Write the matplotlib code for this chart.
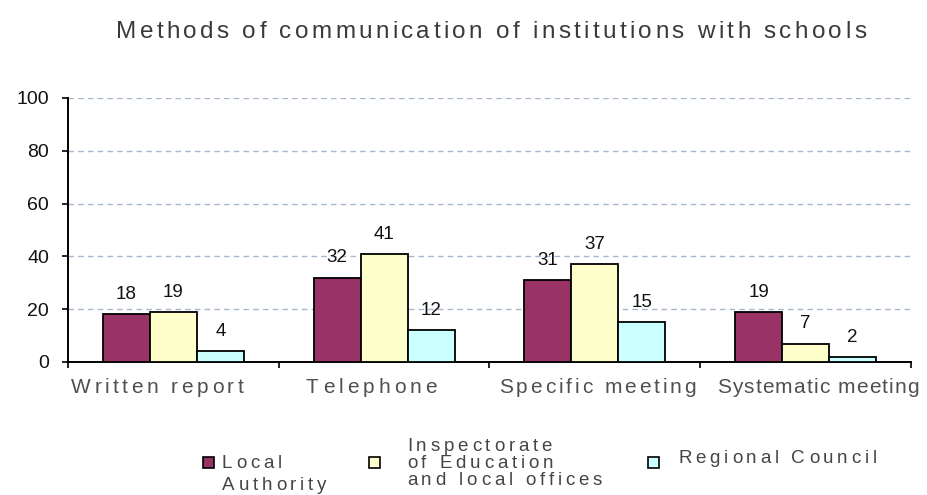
import matplotlib
matplotlib.use('Agg')
import matplotlib.pyplot as plt
import numpy as np
from matplotlib.font_manager import FontProperties, findfont, get_font
from matplotlib.patches import Rectangle

categories = ['Written report', 'Telephone', 'Specific meeting', 'Systematic meeting']
series_names = ['Local\nAuthority', 'Inspectorate\nof Education\nand local offices', 'Regional Council']
local_authority = [18, 32, 31, 19]
inspectorate = [19, 41, 37, 7]
regional_council = [4, 12, 15, 2]
yticks = [0, 20, 40, 60, 80, 100]
title = 'Methods of communication of institutions with schools'

colors = ['#993366', '#FFFFCC', '#CCFFFF']
W, H, DPI = 928, 495, 100
FONT = 'Liberation Sans'

fig = plt.figure(figsize=(W / DPI, H / DPI), dpi=DPI)
ax = fig.add_axes([68 / W, 1 - 362 / H, (911 - 68) / W, 264 / H])


def spaced_text(x, y, s, size, width=None, track=0.0, ha='center', color='black'):
    """Draw s letter by letter with extra tracking; x, y in pixels from top-left, y is baseline."""
    prop = FontProperties(family=FONT, size=size)
    font = get_font(findfont(prop))
    font.set_size(size, DPI)
    adv = [font.load_char(ord(c)).linearHoriAdvance / 65536 for c in s]
    if width is not None:
        track = (width - sum(adv)) / (len(s) - 1)
    total = sum(adv) + track * (len(s) - 1)
    cx = x - total / 2 if ha == 'center' else x
    for c, a in zip(s, adv):
        fig.text(cx / W, 1 - y / H, c, fontproperties=prop, color=color,
                 ha='left', va='baseline')
        cx += a + track


x = np.arange(len(categories))
bw = 0.223
for i, (vals, col) in enumerate(zip([local_authority, inspectorate, regional_council], colors)):
    bars = ax.bar(x + (i - 1) * bw, vals, bw, color=col, edgecolor='black', linewidth=1.3, zorder=3)
    ax.bar_label(bars, padding=8, fontsize=13.5, family=FONT, color='#111111')

ax.set_xlim(-0.5, len(categories) - 0.5)
ax.set_ylim(0, 100)
ax.set_yticks(yticks)
ax.set_yticklabels([str(v) for v in yticks], fontsize=14, family=FONT, color='#111111')
ax.set_xticks(np.arange(len(categories) + 1) - 0.5)
ax.set_xticklabels([])
ax.tick_params(axis='both', direction='out', length=4.5, width=1.2, color='black')
ax.tick_params(axis='y', pad=9)

ax.yaxis.grid(True, color='#A8B8CC', linestyle=(0, (4, 3)), linewidth=1.0, zorder=0)
for side in ['top', 'right']:
    ax.spines[side].set_visible(False)
for side in ['left', 'bottom']:
    ax.spines[side].set_linewidth(1.4)

# title and category labels with wide letter spacing
spaced_text(491, 38, title, 17.5, width=750, color='#3a3a3a')
label_centers = [157, 371.5, 597.5, 818]
label_widths = [172, 131, 197, 202]
for name, cx, w in zip(categories, label_centers, label_widths):
    spaced_text(cx, 393, name, 15, width=w, color='#505050')

# legend: swatches and stacked label lines
swatches = [(203, colors[0]), (369, colors[1]), (648, colors[2])]
for sx, col in swatches:
    fig.add_artist(Rectangle((sx / W, 1 - 468 / H), 11 / W, 11 / H, transform=fig.transFigure,
                             facecolor=col, edgecolor='black', linewidth=1.2))
legend_lines = [
    (222, [468, 490]),
    (407, [451, 468, 485]),
    (678, [463]),
]
for name, (lx, baselines) in zip(series_names, legend_lines):
    for line, by in zip(name.split('\n'), baselines):
        spaced_text(lx, by, line, 13.5, track=3.8, ha='left', color='#454545')

fig.savefig('out.png', dpi=DPI)
